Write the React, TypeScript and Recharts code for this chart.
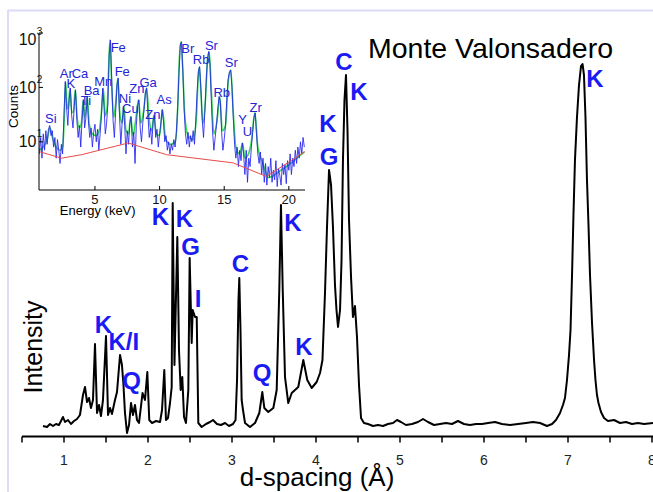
import React from 'react';
import { ComposedChart, Line, Scatter, XAxis, YAxis } from 'recharts';

const FONT = '"Liberation Sans", Arial, Helvetica, sans-serif';

// ---------- main XRD pattern ----------
const dSpacing = [
  0.750, 0.798, 0.833, 0.869, 0.905, 0.940, 0.964, 0.988, 1.012, 1.048,
  1.083, 1.119, 1.155, 1.190, 1.226, 1.250, 1.274, 1.298, 1.321, 1.345,
  1.369, 1.393, 1.417, 1.440, 1.464, 1.500, 1.524, 1.548, 1.571, 1.607,
  1.631, 1.667, 1.690, 1.708, 1.726, 1.750, 1.774, 1.798, 1.821, 1.845,
  1.869, 1.893, 1.935, 1.964, 1.992, 2.015, 2.048, 2.095, 2.143, 2.167,
  2.194, 2.214, 2.238, 2.262, 2.282, 2.294, 2.315, 2.349, 2.369, 2.389,
  2.408, 2.429, 2.452, 2.480, 2.496, 2.520, 2.532, 2.560, 2.580, 2.599,
  2.639, 2.690, 2.738, 2.774, 2.821, 2.869, 2.917, 2.964, 3.012, 3.042,
  3.060, 3.077, 3.087, 3.101, 3.115, 3.131, 3.155, 3.214, 3.274, 3.325,
  3.361, 3.385, 3.432, 3.492, 3.532, 3.563, 3.583, 3.604, 3.631, 3.670,
  3.711, 3.750, 3.789, 3.849, 3.896, 3.949, 4.008, 4.048, 4.077, 4.107,
  4.131, 4.155, 4.179, 4.202, 4.226, 4.244, 4.262, 4.286, 4.304, 4.321,
  4.339, 4.357, 4.375, 4.393, 4.417, 4.440, 4.464, 4.488, 4.512, 4.536,
  4.571, 4.619, 4.679, 4.738, 4.798, 4.857, 4.917, 4.964, 5.012, 5.071,
  5.143, 5.214, 5.274, 5.333, 5.405, 5.476, 5.548, 5.619, 5.690, 5.762,
  5.833, 5.905, 5.976, 6.048, 6.131, 6.214, 6.310, 6.405, 6.500, 6.583,
  6.667, 6.750, 6.810, 6.857, 6.905, 6.940, 6.964, 6.988, 7.012, 7.030,
  7.048, 7.065, 7.083, 7.107, 7.131, 7.155, 7.173, 7.190, 7.208, 7.226,
  7.244, 7.262, 7.286, 7.310, 7.327, 7.345, 7.363, 7.393, 7.429, 7.476,
  7.548, 7.619, 7.690, 7.762, 7.833, 7.905, 8.012,
];
const intensity = [
  10.5, 9.5, 12.5, 10.5, 12.5, 11.5, 15.5, 19.5, 14.5, 16.5,
  12.5, 15.5, 17.5, 21.5, 41.5, 49.5, 34.5, 38.5, 28.5, 36.5,
  92.5, 23.5, 31.5, 20.5, 36.5, 100.5, 21.5, 28.5, 22.5, 36.5,
  44.5, 81.5, 71.5, 51.5, 23.5, 3.5, 11.5, 33.5, 21.5, 31.5,
  16.5, 13.5, 43.5, 36.5, 64.5, 16.5, 13.5, 15.5, 14.5, 26.5,
  66.5, 16.5, 18.5, 33.5, 49.5, 233.5, 71.5, 199.5, 86.5, 46.5,
  59.5, 19.5, 13.5, 46.5, 178.5, 93.5, 126.5, 119.5, 119.5, 13.5,
  9.5, 12.5, 14.5, 16.5, 12.5, 11.5, 13.5, 10.5, 12.5, 16.5,
  56.5, 136.5, 158.5, 106.5, 36.5, 26.5, 13.5, 9.5, 13.5, 23.5,
  44.5, 28.5, 24.5, 28.5, 46.5, 146.5, 231.5, 146.5, 59.5, 33.5,
  43.5, 46.5, 49.5, 76.5, 56.5, 48.5, 54.5, 63.5, 76.5, 143.5,
  209.5, 266.5, 251.5, 209.5, 151.5, 126.5, 109.5, 126.5, 176.5, 276.5,
  336.5, 361.5, 306.5, 216.5, 159.5, 119.5, 130.5, 99.5, 51.5, 18.5,
  13.5, 12.5, 10.5, 11.5, 10.5, 12.5, 13.5, 16.5, 14.5, 11.5,
  12.5, 14.5, 17.5, 14.5, 11.5, 12.5, 13.5, 12.5, 15.5, 12.5,
  11.5, 12.5, 12.5, 13.5, 14.5, 12.5, 11.5, 12.5, 13.5, 14.5,
  13.5, 10.5, 12.5, 16.5, 23.5, 31.5, 38.5, 56.5, 81.5, 106.5,
  161.5, 221.5, 276.5, 319.5, 351.5, 370.5, 372.5, 361.5, 319.5, 256.5,
  211.5, 161.5, 113.5, 76.5, 56.5, 41.5, 33.5, 24.5, 18.5, 15.5,
  16.5, 13.5, 14.5, 12.5, 13.5, 12.5, 13.5,
];
const dTicks = [0.5, 1, 1.5, 2, 2.5, 3, 3.5, 4, 4.5, 5, 5.5, 6, 6.5, 7, 7.5, 8];

const peakText = ['K', 'K/I', 'Q', 'K', 'K', 'G', 'I', 'C', 'Q', 'K', 'K', 'K', 'G', 'C', 'K', 'K'];
const peakD = [1.470, 1.711, 1.806, 2.149, 2.435, 2.506, 2.595, 3.101, 3.357, 3.726, 3.857, 4.143, 4.155, 4.333, 4.512, 7.321];
const peakI = [103.5, 86.5, 47.5, 211.5, 209.5, 181.5, 129.5, 164.5, 55.5, 205.5, 81.5, 304.5, 271.5, 366.5, 336.5, 349.5];

// ---------- inset XRF spectrum ----------
const energy = [
  0.7, 0.8, 0.9, 1.0, 1.1, 1.2, 1.3, 1.4, 1.5, 1.6,
  1.7, 1.8, 1.9, 2.0, 2.1, 2.2, 2.3, 2.4, 2.5, 2.6,
  2.7, 2.8, 2.9, 3.0, 3.1, 3.2, 3.3, 3.4, 3.5, 3.6,
  3.7, 3.8, 3.9, 4.0, 4.1, 4.2, 4.3, 4.4, 4.5, 4.6,
  4.7, 4.8, 4.9, 5.0, 5.1, 5.2, 5.3, 5.4, 5.5, 5.6,
  5.7, 5.8, 5.9, 6.0, 6.1, 6.2, 6.3, 6.4, 6.5, 6.6,
  6.7, 6.8, 6.9, 7.0, 7.1, 7.2, 7.3, 7.4, 7.5, 7.6,
  7.7, 7.8, 7.9, 8.0, 8.1, 8.2, 8.3, 8.4, 8.5, 8.6,
  8.7, 8.8, 8.9, 9.0, 9.1, 9.2, 9.3, 9.4, 9.5, 9.6,
  9.7, 9.8, 9.9, 10.0, 10.1, 10.2, 10.3, 10.4, 10.5, 10.6,
  10.7, 10.8, 10.9, 11.0, 11.1, 11.2, 11.3, 11.4, 11.5, 11.6,
  11.7, 11.8, 11.9, 12.0, 12.1, 12.2, 12.3, 12.4, 12.5, 12.6,
  12.7, 12.8, 12.9, 13.0, 13.1, 13.2, 13.3, 13.4, 13.5, 13.6,
  13.7, 13.8, 13.9, 14.0, 14.1, 14.2, 14.3, 14.4, 14.5, 14.6,
  14.7, 14.8, 14.9, 15.0, 15.1, 15.2, 15.3, 15.4, 15.5, 15.6,
  15.7, 15.8, 15.9, 16.0, 16.1, 16.2, 16.3, 16.4, 16.5, 16.6,
  16.7, 16.8, 16.9, 17.0, 17.1, 17.2, 17.3, 17.4, 17.5, 17.6,
  17.7, 17.8, 17.9, 18.0, 18.1, 18.2, 18.3, 18.4, 18.5, 18.6,
  18.7, 18.8, 18.9, 19.0, 19.1, 19.2, 19.3, 19.4, 19.5, 19.6,
  19.7, 19.8, 19.9, 20.0, 20.1, 20.2, 20.3, 20.4, 20.5, 20.6,
  20.7, 20.8, 20.9, 21.0, 21.1, 21.2,
];
const counts = [
  6, 12, 5, 14, 7, 16, 9, 17, 20, 13,
  16, 8, 12, 5, 11, 7, 4, 9, 6, 30,
  128, 45, 20, 60, 97, 30, 18, 45, 90, 25,
  12, 20, 8, 25, 59, 18, 28, 68, 22, 12,
  18, 8, 15, 21, 10, 17, 7, 14, 30, 97,
  45, 14, 22, 50, 400, 745, 130, 25, 12, 35,
  110, 148, 30, 9, 22, 44, 20, 6, 16, 9,
  22, 29, 8, 15, 4, 20, 45, 59, 18, 10,
  22, 40, 80, 97, 30, 12, 18, 9, 24, 31,
  12, 17, 8, 14, 22, 39, 24, 10, 13, 7,
  10, 6, 9, 7, 11, 8, 15, 45, 180, 600,
  690, 200, 40, 14, 9, 15, 8, 13, 10, 16,
  9, 25, 80, 200, 240, 90, 25, 12, 35, 120,
  330, 454, 260, 60, 15, 7, 12, 20, 40, 68,
  55, 15, 7, 11, 20, 60, 140, 190, 209, 100,
  28, 9, 5, 8, 3.5, 7, 4.5, 9.5, 6, 2.5,
  7, 1.8, 5, 3.5, 8, 15, 28, 34, 14, 6,
  4, 6.5, 2.5, 5, 1.8, 4, 1.6, 3.5, 2.2, 5,
  1.8, 3, 2, 4.5, 1.5, 3.2, 2.4, 1.6, 4, 2.5,
  3.8, 1.7, 4.5, 3, 6, 2.5, 5, 3.5, 7, 4,
  8, 5, 10, 6, 12, 8,
];
const fitEnergy = [
  0.7, 1.0, 1.3, 1.52, 1.75, 2.0, 2.3, 2.5, 2.62, 2.73,
  2.85, 2.95, 3.06, 3.2, 3.33, 3.47, 3.62, 3.8, 3.95, 4.09,
  4.22, 4.4, 4.55, 4.8, 5.1, 5.35, 5.5, 5.64, 5.8, 5.95,
  6.05, 6.16, 6.3, 6.45, 6.6, 6.77, 6.92, 7.1, 7.24, 7.4,
  7.6, 7.76, 7.95, 8.15, 8.37, 8.55, 8.75, 8.99, 9.2, 9.4,
  9.56, 9.75, 10.0, 10.23, 10.45, 10.8, 11.2, 11.4, 11.52, 11.65,
  11.78, 11.95, 12.2, 12.6, 12.85, 12.97, 13.07, 13.2, 13.35, 13.55,
  13.7, 13.84, 14.0, 14.2, 14.45, 14.66, 14.85, 15.1, 15.3, 15.51,
  15.7, 15.9, 16.2, 16.42, 16.6, 16.8, 17.1, 17.37, 17.6, 18.0,
  18.4, 18.7, 19.2, 19.8, 20.4, 21.2,
];
const fitCounts = [
  7, 8, 11, 18, 11, 8, 7, 8, 25, 128,
  40, 45, 97, 35, 35, 90, 28, 18, 22, 59,
  28, 68, 22, 14, 13, 17, 35, 97, 30, 45,
  200, 745, 100, 28, 50, 148, 35, 22, 44, 16,
  14, 29, 13, 25, 59, 22, 35, 97, 25, 16,
  31, 14, 13, 39, 12, 9, 10, 40, 300, 690,
  250, 30, 13, 11, 28, 130, 240, 80, 22, 60,
  300, 454, 90, 14, 25, 68, 16, 20, 120, 209,
  35, 8, 6, 9.5, 5, 5.5, 10, 34, 8, 4,
  2.2, 2.3, 2.8, 3.5, 4.5, 6.5,
];
const bgEnergy = [0.69, 2.42, 3.97, 7.57, 10.54, 15.69, 18.27, 21.24];
const bgCounts = [6.6, 5.0, 5.8, 9.5, 5.8, 4.1, 2.3, 6.6];

const elemText = ['Si', 'Ar', 'Ca', 'K', 'Ti', 'Ba', 'Mn', 'Fe', 'Fe', 'Ni', 'Zn', 'Ga', 'Cu', 'Zn', 'As', 'Br', 'Rb', 'Sr', 'Sr', 'Rb', 'Y', 'U', 'Zr'];
const elemEnergy = [1.58, 2.78, 3.84, 3.13, 4.30, 4.74, 5.64, 6.80, 7.11, 7.32, 8.24, 9.11, 7.74, 9.48, 10.35, 12.18, 13.21, 14.01, 15.55, 14.81, 16.42, 16.79, 17.43];
const elemCounts = [22.6, 147.5, 147.5, 96.6, 47.8, 72.8, 106.6, 454, 162.6, 51.3, 80.4, 100.9, 33.6, 26.4, 49.8, 435, 270, 488, 235, 66.1, 21.1, 12.9, 35.1];
const energyTicks = [5, 10, 15, 20];
const countTicks = [10, 100, 1000];

// ---------- derived tables ----------
const mainData = dSpacing.map((x, i) => ({ x, y: intensity[i] }));
const peakData = peakD.map((x, i) => ({ x, y: peakI[i], t: peakText[i] }));
const spectrumData = energy.map((x, i) => ({ x, y: counts[i] }));
const fitData = fitEnergy.map((x, i) => ({ x, y: fitCounts[i] }));
const bgData = bgEnergy.map((x, i) => ({ x, y: bgCounts[i] }));
const elemData = elemEnergy.map((x, i) => ({ x, y: elemCounts[i], t: elemText[i] }));

const MainTick = (props: any) => {
  const { x, y, payload } = props;
  const v = payload.value;
  if (!Number.isInteger(v)) return <g />;
  return (
    <text x={x} y={y} dy="0.71em" textAnchor="middle" fontSize={14} fill="#222" fontFamily={FONT}>
      {v}
    </text>
  );
};

const EnergyTick = (props: any) => {
  const { x, y, payload } = props;
  return (
    <text x={x} y={y} dy="0.71em" textAnchor="middle" fontSize={13} fill="#111" fontFamily={FONT}>
      {payload.value}
    </text>
  );
};

const CountTick = (props: any) => {
  const { x, y, payload } = props;
  const exp = Math.round(Math.log10(payload.value));
  const shift = exp === 3 ? 6 : 0;
  return (
    <g>
      <text x={x + 0.5} y={y + shift + 5.5} textAnchor="end" fontSize={16} fill="#111" fontFamily={FONT}>
        10
      </text>
      <text x={x + 0.8} y={y + shift - 4.5} textAnchor="start" fontSize={10} fill="#111" fontFamily={FONT}>
        {exp}
      </text>
    </g>
  );
};

const PeakLabel = (props: any) => {
  const { cx, cy, payload } = props;
  return (
    <text x={cx} y={cy} textAnchor="middle" fontSize={24} fontWeight="bold" fill="#1a1af2" fontFamily={FONT}>
      {payload.t}
    </text>
  );
};

const ElemLabel = (props: any) => {
  const { cx, cy, payload } = props;
  return (
    <text x={cx} y={cy} textAnchor="middle" fontSize={13} fill="#2424d6" fontFamily={FONT}>
      {payload.t}
    </text>
  );
};

export default function App() {
  return (
    <div style={{ position: 'absolute', left: 0, top: 0, width: 653, height: 492, overflow: 'hidden', background: '#fff' }}>
      <div style={{ position: 'absolute', left: 0, top: 0 }}>
        <ComposedChart width={680} height={492} margin={{ top: 36.5, right: 2.8, left: 22, bottom: 25.5 }}>
          <XAxis
            dataKey="x"
            type="number"
            domain={[0.5, 8.3]}
            ticks={dTicks}
            allowDataOverflow
            height={30}
            tickSize={6}
            tickMargin={13}
            interval={0}
            axisLine={{ stroke: '#000', strokeWidth: 2 }}
            tickLine={{ stroke: '#000', strokeWidth: 1.5 }}
            tick={<MainTick />}
          />
          <YAxis type="number" domain={[0, 400]} hide allowDataOverflow />
          <Line
            data={mainData}
            dataKey="y"
            type="linear"
            stroke="#000"
            strokeWidth={2}
            dot={false}
            strokeLinejoin="round"
            isAnimationActive={false}
          />
          <Scatter data={peakData} dataKey="y" shape={<PeakLabel />} isAnimationActive={false} />
        </ComposedChart>
      </div>

      <div style={{ position: 'absolute', left: 0, top: 0 }}>
        <ComposedChart width={320} height={230} margin={{ top: 33, right: 15, left: 0, bottom: 0 }}>
          <XAxis
            dataKey="x"
            type="number"
            domain={[0.67, 21.25]}
            ticks={energyTicks}
            allowDataOverflow
            height={40}
            tickSize={-4}
            tickMargin={9}
            interval={0}
            axisLine={{ stroke: '#000', strokeWidth: 1 }}
            tickLine={{ stroke: '#000', strokeWidth: 1 }}
            tick={<EnergyTick />}
          />
          <YAxis
            type="number"
            scale="log"
            domain={[1.3, 1000]}
            ticks={countTicks}
            allowDataOverflow
            width={39}
            tickSize={-4}
            tickMargin={7}
            interval={0}
            axisLine={{ stroke: '#000', strokeWidth: 1 }}
            tickLine={{ stroke: '#000', strokeWidth: 1 }}
            tick={<CountTick />}
          />
          <Line data={fitData} dataKey="y" type="monotone" stroke="#3ad652" strokeWidth={1.6} dot={false} isAnimationActive={false} />
          <Line data={spectrumData} dataKey="y" type="linear" stroke="#2222ee" strokeOpacity={0.85} strokeWidth={1} dot={false} isAnimationActive={false} />
          <Line data={bgData} dataKey="y" type="linear" stroke="#ea4a4a" strokeWidth={1} dot={false} isAnimationActive={false} />
          <Scatter data={elemData} dataKey="y" shape={<ElemLabel />} isAnimationActive={false} />
        </ComposedChart>
      </div>

      <svg width={653} height={492} style={{ position: 'absolute', left: 0, top: 0, pointerEvents: 'none' }}>
        <line x1={8} y1={10} x2={8} y2={492} stroke="#dcdcf6" strokeWidth={2} />
        <line x1={8} y1={10.5} x2={653} y2={10.5} stroke="#dcdcf6" strokeWidth={2} />
        <text x={490.5} y={58} textAnchor="middle" fontSize={28.5} fill="#000" fontFamily={FONT}>
          Monte Valonsadero
        </text>
        <text transform="translate(42,347) rotate(-90)" textAnchor="middle" fontSize={25} fill="#000" fontFamily={FONT}>
          Intensity
        </text>
        <text x={317} y={486} textAnchor="middle" fontSize={26} fill="#000" fontFamily={FONT}>
          d-spacing (Å)
        </text>
        <text transform="translate(18,106.5) rotate(-90)" textAnchor="middle" fontSize={13.5} fill="#000" fontFamily={FONT}>
          Counts
        </text>
        <text x={97.7} y={215} textAnchor="middle" fontSize={13} fill="#000" fontFamily={FONT}>
          Energy (keV)
        </text>
      </svg>
    </div>
  );
}
